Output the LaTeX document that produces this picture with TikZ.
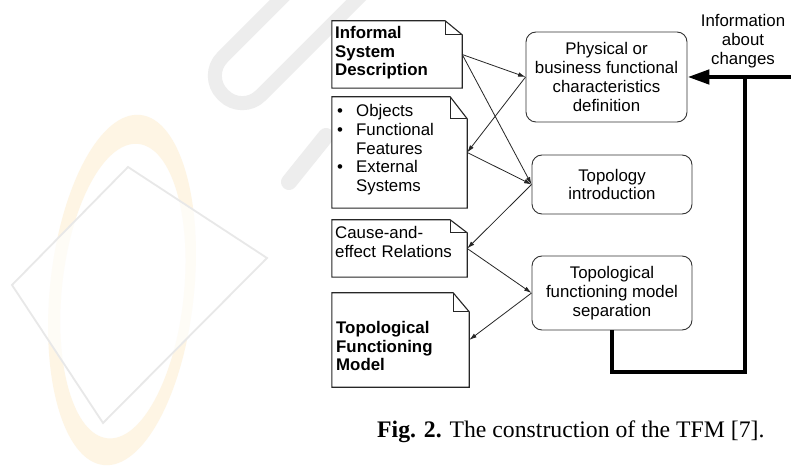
\documentclass[tikz,border=0pt]{standalone}
\usepackage{fontspec}
\setmainfont{Liberation Sans}
\newfontfamily\figcapfont{Liberation Serif}
\usetikzlibrary{arrows.meta,calc}

\newcommand\dfont{\fontsize{16.9}{18.8}\selectfont}
\newcommand\bul{\makebox[21bp][l]{\hspace{2bp}\textbullet}}
\newcommand\ind{\hspace*{21bp}}

% outline of a note with a dog-eared top right corner
\newcommand\dognote[3]{%
  \draw[noteline] (#1.north west) -- ($(#1.north east)+(-#2,0)$)
    -- ($(#1.north east)+(0,#3)$) -- (#1.south east) -- (#1.south west) -- cycle;
  \draw[noteline] ($(#1.north east)+(-#2,0)$) |- ($(#1.north east)+(0,#3)$);
}

\tikzset{
  notebox/.style={rectangle, inner sep=0pt},
  noteline/.style={draw=black!85, line width=1.1bp, line join=miter},
  notetext/.style={anchor=base west, inner sep=0pt, text width=128bp, align=left, font=\dfont},
  roundbox/.style={rectangle, draw=black!80, line width=0.9bp, rounded corners=10bp,
    align=center, font=\dfont, inner sep=0pt},
  conn/.style={draw=black!85, line width=0.8bp, -{Latex[length=7.5bp,width=4.5bp]}},
  fback/.style={draw=black, line width=4.6bp, line join=miter},
  wmring/.style={fill={rgb,255:red,254;green,245;blue,228}, even odd rule},
  wmsheet/.style={draw=black!9, line width=1.8bp, fill=white, fill opacity=0.7},
  wmgray/.style={draw=black!7, line cap=round},
}

\begin{document}
\begin{tikzpicture}[x=1bp, y=-1bp]
\useasboundingbox (0,0) rectangle (791,466);
\fill[white] (0,0) rectangle (791,466);

% faint emblem in the background
\fill[wmring, rotate around={-6:(122,290)}]
  (122,290) ellipse [x radius=72, y radius=176]
  (123,291) ellipse [x radius=61, y radius=148];
\draw[wmsheet] (128,167) -- (267,258) -- (103,423) -- (12,285) -- cycle;
\draw[wmgray, line width=14bp, rounded corners=26bp, rotate around={45:(308,10)}]
  (188,-17) rectangle (428,37);
\draw[wmgray, line width=16bp] (289,182) -- (326,136);

% document notes on the left
\node[notebox, minimum width=130bp, minimum height=67bp]  (info)  at (397,54.5)  {};
\node[notebox, minimum width=135bp, minimum height=111bp] (objs)  at (399.5,152.5) {};
\node[notebox, minimum width=135bp, minimum height=57bp]  (cause) at (399.5,248.5) {};
\node[notebox, minimum width=137bp, minimum height=94bp]  (tfm)   at (400.5,340) {};
\fill[white] (info.north west) rectangle (info.south east);
\fill[white] (objs.north west) rectangle (objs.south east);
\dognote{info}{17}{14}
\dognote{objs}{17}{22}
\dognote{cause}{17}{13}
\dognote{tfm}{16}{19}

\node[notetext, font=\dfont\bfseries] (infotxt) at (335,38.3) {Informal\\System\\Description};
\node[notetext] (objstxt) at (335,116.7)
  {\bul Objects\\\bul Functional\\\ind Features\\\bul External\\\ind Systems};
\node[notetext] (causetxt) at (335,238.3) {Cause-and-\\effect Relations};
\node[notetext, font=\dfont\bfseries] (tfmtxt) at (336,333.3) {Topological\\Functioning\\Model};

% process steps on the right
\node[roundbox, minimum width=161bp, minimum height=90bp] (phys) at (606.5,77)
  {Physical or\\business functional\\characteristics\\definition};
\node[roundbox, minimum width=160bp, minimum height=59bp] (topo) at (612,184.5)
  {Topology\\introduction};
\node[roundbox, minimum width=160bp, minimum height=74bp] (sep) at (612,293)
  {Topological\\functioning model\\separation};

% thin connectors
\draw[conn] (info.east) -- (phys.west);
\draw[conn] (info.east) -- (topo.west);
\draw[conn] (phys.west) -- (objs.east);
\draw[conn] (objs.east) -- (topo.west);
\draw[conn] (topo.west) -- (cause.east);
\draw[conn] (cause.east) -- (sep.west);
\draw[conn] (sep.west) -- (tfm.east);

% feedback loop
\coordinate (fbin) at (791,77);
\coordinate (fbcorner) at (745,372);
\draw[fback] (sep.south) |- (fbcorner) -- (fbcorner |- fbin);
\draw[fback, -{Triangle[length=22bp,width=14bp]}] (fbin) -- (phys.east);
\node[align=center, font=\dfont, inner sep=0pt] (chg) at (743,41) {Information\\about\\changes};

% caption
\node[anchor=base west, inner sep=0pt, font=\figcapfont\fontsize{23.8}{28}\selectfont] (cap) at (377,437)
  {\textbf{Fig. 2.} The construction of the TFM [7].};
\end{tikzpicture}
\end{document}
